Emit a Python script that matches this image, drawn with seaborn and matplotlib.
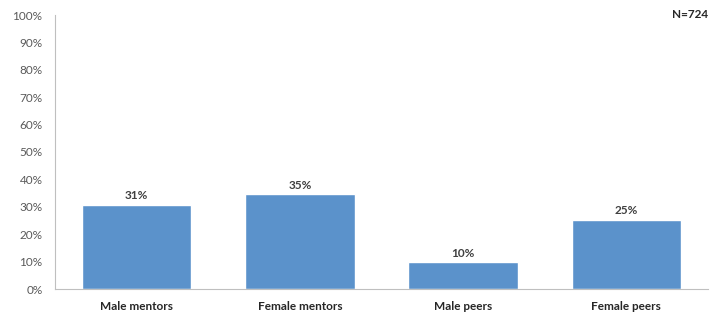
import matplotlib
matplotlib.use("Agg")
import matplotlib.pyplot as plt
import seaborn as sns
import pandas as pd
from matplotlib.ticker import FixedLocator

categories = ["Male mentors", "Female mentors", "Male peers", "Female peers"]
values = [30.7, 34.6, 9.7, 25.2]
value_labels = ["31%", "35%", "10%", "25%"]
y_ticks = list(range(0, 101, 10))
y_tick_labels = [f"{t}%" for t in y_ticks]
note = "N=724"

sns.set_theme(style="white")
plt.rcParams['font.family'] = ['Lato', 'DejaVu Sans']

df = pd.DataFrame({"cat": categories, "val": values})

fig = plt.figure(figsize=(7.2, 3.14), dpi=100)
ax = fig.add_axes([55/720, 1-289/314, (708-55)/720, (289-15)/314])

sns.barplot(data=df, x="cat", y="val", color="#5B92CB", saturation=1, width=0.67, ax=ax)

for i, (v, lab) in enumerate(zip(values, value_labels)):
    ax.annotate(lab, (i, v), xytext=(0, 2.5), textcoords="offset points",
                ha="center", va="bottom", fontsize=8.5, fontweight="bold", color="#404040")

ax.set_ylim(0, 100)
ax.set_xlim(-0.5, len(categories) - 0.5)
ax.set_yticks(y_ticks)
ax.set_yticklabels(y_tick_labels, fontsize=8.5, color="#595959")
ax.set_xticks(range(len(categories)))
ax.set_xticklabels(categories, fontsize=8.5, fontweight="bold", color="#262626")
ax.xaxis.set_minor_locator(FixedLocator([i - 0.5 for i in range(len(categories) + 1)]))
ax.tick_params(axis="x", which="major", length=0, pad=9)
ax.tick_params(axis="x", which="minor", length=4, color="#BFBFBF", width=0.8, direction="out")
ax.tick_params(axis="y", which="major", length=4, color="#BFBFBF", width=0.8, direction="out", pad=5)
ax.set_xlabel("")
ax.set_ylabel("")
for s in ["top", "right"]:
    ax.spines[s].set_visible(False)
for s in ["left", "bottom"]:
    ax.spines[s].set_color("#BFBFBF")
    ax.spines[s].set_linewidth(0.8)

fig.text(708/720, 1-15/314, note, ha="right", va="center", fontsize=8.5,
         fontweight="bold", color="#262626")

fig.savefig("out.png", dpi=100)
